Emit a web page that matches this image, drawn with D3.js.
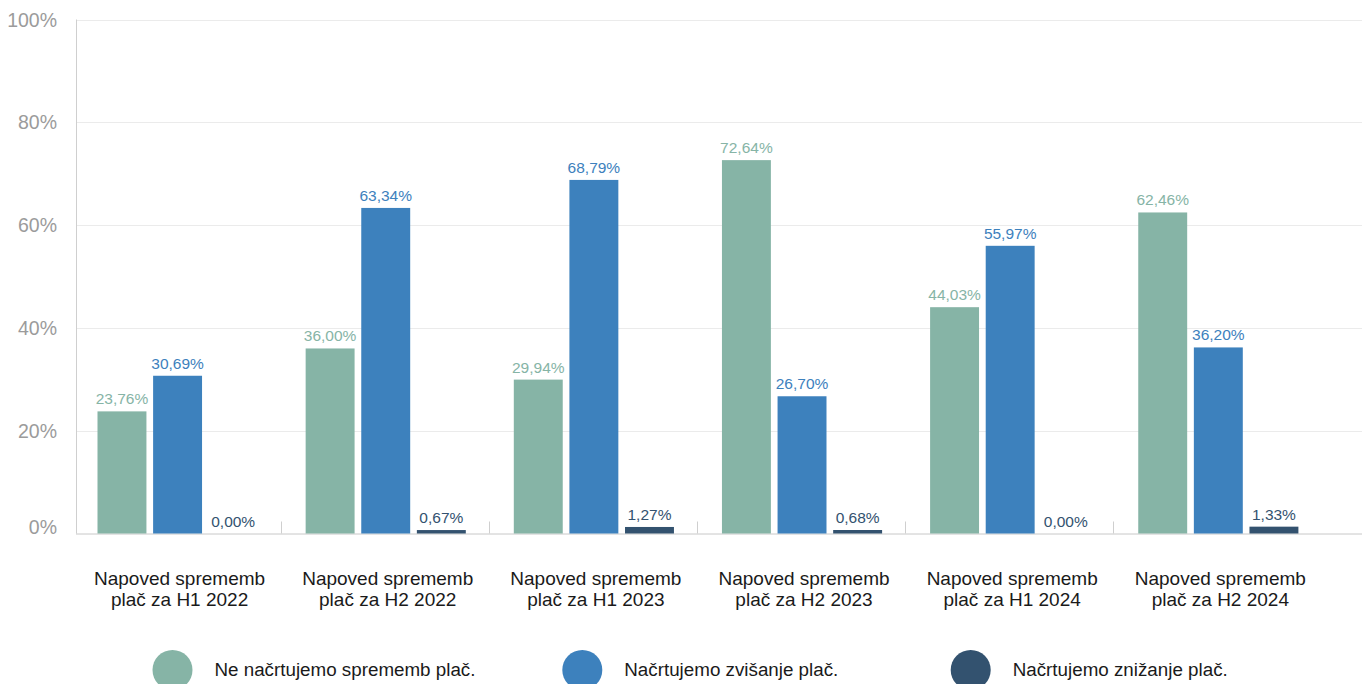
<!DOCTYPE html>
<html>
<head>
<meta charset="utf-8">
<script src="https://cdn.jsdelivr.net/npm/d3@7"></script>
<style>
  body { margin: 0; background: #fff; }
  svg { display: block; font-family: "Liberation Sans", Arial, sans-serif; }
</style>
</head>
<body>
<svg></svg>
<script>
const width = 1362;
const height = 684;

// data
const categories = [
    'Napoved sprememb plač za H1 2022',
    'Napoved sprememb plač za H2 2022',
    'Napoved sprememb plač za H1 2023',
    'Napoved sprememb plač za H2 2023',
    'Napoved sprememb plač za H1 2024',
    'Napoved sprememb plač za H2 2024'
];
const seriesNames = ['Ne načrtujemo sprememb plač.', 'Načrtujemo zvišanje plač.', 'Načrtujemo znižanje plač.'];
const noChange = [23.76, 36.00, 29.94, 72.64, 44.03, 62.46];
const increase = [30.69, 63.34, 68.79, 26.70, 55.97, 36.20];
const decrease = [0.00, 0.67, 1.27, 0.68, 0.00, 1.33];
const yTicks = [0, 20, 40, 60, 80, 100];

const colors = ['#86b4a6', '#3d81bd', '#33526f'];
const seriesValues = [noChange, increase, decrease];

const svg = d3.select('svg')
    .attr('width', width).attr('height', height);

const y = d3.scaleLinear().domain([0, 100]).range([533.5, 19.5]);
const x0 = d3.scaleBand().domain(categories).range([72.5, 1321.4]);
const x1 = d3.scaleBand().domain([0, 1, 2])
    .range([25, x0.bandwidth() - 23]).paddingInner(0.12);

const axisLeft = 76;

// gridlines
svg.append('g')
    .selectAll('line')
    .data(yTicks.filter(d => d > 0))
    .enter().append('line')
    .attr('x1', axisLeft).attr('x2', width)
    .attr('y1', d => Math.round(y(d)) + 0.5)
    .attr('y2', d => Math.round(y(d)) + 0.5)
    .attr('stroke', '#ebebeb');

// y tick labels
svg.append('g')
    .selectAll('text')
    .data(yTicks)
    .enter().append('text')
    .attr('x', 57)
    .attr('y', d => d === 0 ? y(d) : y(d) + 7)
    .attr('text-anchor', 'end')
    .attr('fill', '#9b9b9b')
    .style('font-size', '19.5px')
    .text(d => d + '%');

// y axis line
svg.append('line')
    .attr('x1', axisLeft + 0.5).attr('x2', axisLeft + 0.5)
    .attr('y1', y(100)).attr('y2', y(0))
    .attr('stroke', '#cfcfcf');

// x baseline
svg.append('line')
    .attr('x1', axisLeft).attr('x2', width)
    .attr('y1', y(0) + 0.5).attr('y2', y(0) + 0.5)
    .attr('stroke', '#c8c8c8');

// group separators
svg.append('g')
    .selectAll('line')
    .data(categories.slice(1))
    .enter().append('line')
    .attr('x1', d => Math.round(x0(d)) + 0.5)
    .attr('x2', d => Math.round(x0(d)) + 0.5)
    .attr('y1', y(0) - 12).attr('y2', y(0))
    .attr('stroke', '#cfcfcf');

// bars
const groups = svg.append('g')
    .selectAll('g')
    .data(categories)
    .enter().append('g')
    .attr('transform', d => `translate(${x0(d)},0)`);

const cells = groups.selectAll('g')
    .data((d, i) => seriesValues.map((s, k) => ({ k: k, v: s[i] })))
    .enter().append('g');

cells.append('rect')
    .attr('x', d => x1(d.k))
    .attr('width', x1.bandwidth())
    .attr('y', d => y(d.v))
    .attr('height', d => y(0) - y(d.v))
    .attr('fill', d => colors[d.k]);

cells.append('text')
    .attr('x', d => x1(d.k) + x1.bandwidth() / 2)
    .attr('y', d => y(d.v) - 7)
    .attr('text-anchor', 'middle')
    .attr('fill', d => colors[d.k])
    .style('font-size', '15.5px')
    .text(d => d.v.toFixed(2).replace('.', ',') + '%');

// category labels (two lines)
const catLabels = svg.append('g')
    .selectAll('text')
    .data(categories)
    .enter().append('text')
    .attr('text-anchor', 'middle')
    .attr('fill', '#1a1a1a')
    .style('font-size', '19px');

catLabels.append('tspan')
    .attr('x', d => x0(d) + x0.bandwidth() / 2 + 3)
    .attr('y', 585)
    .text(d => d.split(' ').slice(0, 2).join(' '));
catLabels.append('tspan')
    .attr('x', d => x0(d) + x0.bandwidth() / 2 + 3)
    .attr('y', 606)
    .text(d => d.split(' ').slice(2).join(' '));

// legend
const legendX = [172.5, 582.3, 970.7];
const legend = svg.append('g')
    .selectAll('g')
    .data(seriesNames)
    .enter().append('g')
    .attr('transform', (d, i) => `translate(${legendX[i]},670)`);

legend.append('circle')
    .attr('r', 20)
    .attr('fill', (d, i) => colors[i]);

legend.append('text')
    .attr('x', 42)
    .attr('y', 6)
    .attr('fill', '#1a1a1a')
    .style('font-size', '18.8px')
    .text(d => d);
</script>
</body>
</html>
